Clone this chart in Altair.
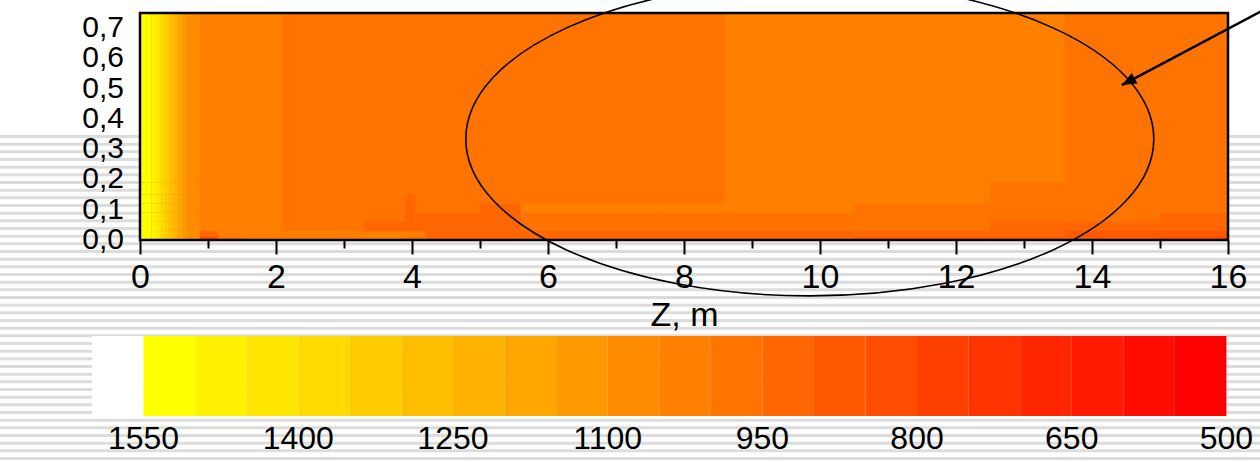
import altair as alt
import pandas as pd

# Furnace temperature field (deg C), piecewise constant on a grid.
# Column edges along the furnace length Z (m) and row edges across its height X (m).
z_edges = [0, 0.17, 0.25, 0.32, 0.38, 0.44, 0.5, 0.56, 0.62, 0.7, 0.88, 1.15, 1.5,
           2.1, 3.3, 3.9, 4.05, 4.2, 5.0, 5.25, 5.6, 7.7, 8.6, 10.5, 12.5, 13.6, 15.0, 16.0]
x_edges = [0, 0.01, 0.03, 0.06, 0.09, 0.12, 0.15, 0.19, 0.75]

# burner zone: hot core right at the inlet
inlet = [1525, 1475, 1425, 1375, 1325, 1275, 1225, 1175, 1125, 1075]
# one row per X band, bottom to top
temp_rows = [
    inlet + [825, 975, 1025, 1025, 1025, 975, 975, 925, 925, 925, 925, 925, 925, 875, 875, 875, 825],
    inlet + [925, 1025, 1025, 1025, 1025, 1025, 1025, 925, 925, 925, 925, 925, 925, 925, 925, 875, 875],
    inlet + [1025, 1025, 1025, 975, 925, 925, 925, 925, 925, 925, 975, 975, 975, 975, 925, 925, 925],
    inlet + [1025, 1025, 1025, 975, 975, 925, 925, 925, 925, 925, 975, 975, 975, 975, 975, 975, 925],
    inlet + [1025, 1025, 1025, 975, 975, 925, 975, 975, 925, 925, 1025, 1025, 1025, 975, 975, 975, 975],
    inlet + [1025, 1025, 1025, 975, 975, 925, 975, 975, 975, 975, 975, 975, 1025, 1025, 975, 975, 975],
    inlet + [1025, 1025, 1025, 975, 975, 975, 975, 975, 975, 975, 975, 975, 1025, 1025, 975, 975, 975],
    inlet + [1025, 1025, 1025, 975, 975, 975, 975, 975, 975, 975, 975, 975, 1025, 1025, 1025, 975, 975],
]

# colour scale: 21 levels of 50 deg from 1550 down to 500, framed by an empty
# (white) level above 1550 and a see-through one below 500
level_colors = ["#FFFF00", "#FFF200", "#FFE600", "#FFD900", "#FFCC00", "#FFBF00", "#FFB300",
                "#FFA600", "#FF9900", "#FF8C00", "#FF8000", "#FF7300", "#FF6600", "#FF5900",
                "#FF4D00", "#FF4000", "#FF3300", "#FF2600", "#FF1A00", "#FF0D00", "#FF0000"]
scale_top, scale_bottom = 1600, 450

x_ticks = list(range(0, 17))
y_ticks = [0.0, 0.1, 0.2, 0.3, 0.4, 0.5, 0.6, 0.7]
y_tick_labels = ["0,0", "0,1", "0,2", "0,3", "0,4", "0,5", "0,6", "0,7"]

# highlighted zone (centre in m) and pointer arrow
zone_center_z, zone_center_x = 9.85, 0.334
arrow_from = (16.69, 0.78)
arrow_to = (14.44, 0.512)

FONT = "Liberation Sans"
W, H = 1088, 227

cells = []
for r, row in enumerate(temp_rows):
    for c, t in enumerate(row):
        cells.append({"z0": z_edges[c], "z1": z_edges[c + 1],
                      "x0": x_edges[r], "x1": x_edges[r + 1], "neg_t": -t})
cells = pd.DataFrame(cells)

one = alt.Data(values=[{}])

# slide background: thin grey horizontal lines
stripe_rows = [123.5 + 7.667 * k for k in range(43)]
stripes = alt.Chart(pd.DataFrame({"py": stripe_rows})).mark_rule(
    color="#dcdcdc", strokeWidth=3
).encode(
    y=alt.Y("py:Q", scale=None, axis=None),
    x=alt.value(-140), x2=alt.value(1120),
)

backdrop = alt.Chart(one).mark_rect(color="#FF7300").encode(
    x=alt.value(0), x2=alt.value(W), y=alt.value(0), y2=alt.value(H)
)

heat = alt.Chart(cells).mark_rect().encode(
    x=alt.X("z0:Q", title="Z, m",
            scale=alt.Scale(domain=[0, 16], nice=False, zero=False),
            axis=alt.Axis(values=x_ticks,
                          labelExpr="datum.value % 2 == 0 ? format(datum.value, 'd') : ''",
                          tickSize={"condition": {"test": "datum.value % 2 != 0", "value": 8}, "value": 14},
                          tickWidth=2, tickColor="black", domain=False, grid=False,
                          labelFontSize=34, labelFont=FONT, labelColor="black", labelPadding=6,
                          labelFlush=False, labelOverlap=False,
                          titleFontSize=34, titleFont=FONT, titleFontWeight="normal",
                          titleColor="black", titlePadding=4, zindex=1)),
    x2="z1:Q",
    y=alt.Y("x0:Q", title="X, m",
            scale=alt.Scale(domain=[0, 0.75], nice=False, zero=False),
            axis=alt.Axis(values=y_ticks, labels=False,
                          tickSize=15, tickWidth=2, tickColor="black", domain=False, grid=False,
                          titleFontSize=34, titleFont=FONT, titleFontWeight="normal",
                          titleColor="black", titleX=-111, titleY=131, titleAngle=-90,
                          titleAlign="center", titleBaseline="middle", zindex=1)),
    y2="x1:Q",
    color=alt.Color("neg_t:Q",
                    scale=alt.Scale(type="quantize", domain=[-scale_top, -scale_bottom],
                                    range=["white"] + level_colors + ["transparent"],
                                    nice=False, zero=False),
                    legend=alt.Legend(type="gradient", orient="none", legendX=-48, legendY=323,
                                      direction="horizontal", gradientLength=1186,
                                      gradientThickness=80, gradientStrokeWidth=0, title=None,
                                      padding=0, labelFontSize=32, labelFont=FONT,
                                      labelColor="black", labelAlign="center", labelOffset=8,
                                      labelOverlap=False, zindex=1,
                                      labelExpr="(round(-datum.value) % 150 == 50) ? format(round(-datum.value), 'd') : ''")),
)

# X tick labels written with a decimal comma, placed through the shared X scale
y_labels = alt.Chart(pd.DataFrame({"v": y_ticks, "t": y_tick_labels})).mark_text(
    align="right", baseline="middle", fontSize=30, font=FONT, color="black"
).encode(
    y=alt.Y("v:Q", title="X, m", axis=None),
    x=alt.value(-16),
    text="t:N",
)

frame = alt.Chart(one).mark_rect(filled=False, stroke="black", strokeWidth=2.5).encode(
    x=alt.value(0), x2=alt.value(W), y=alt.value(0), y2=alt.value(H)
)

# ellipse outline drawn as a custom symbol (semi-axes 5.06 m by 0.52 m)
ellipse = alt.Chart(pd.DataFrame({"zc": [zone_center_z], "xc": [zone_center_x]})).mark_point(
    shape="M -1 0 A 1 0.4564 0 1 1 1 0 A 1 0.4564 0 1 1 -1 0 Z",
    size=688 ** 2, filled=False, stroke="black", strokeWidth=1.6, opacity=1,
).encode(x="zc:Q", y="xc:Q")

arrow_df = pd.DataFrame({"za": [arrow_from[0]], "xa": [arrow_from[1]],
                         "zb": [arrow_to[0]], "xb": [arrow_to[1]]})
arrow_line = alt.Chart(arrow_df).mark_rule(color="black", strokeWidth=2.5).encode(
    x="za:Q", y="xa:Q", x2="zb:Q", y2="xb:Q"
)
arrow_head = alt.Chart(arrow_df).mark_point(
    shape="M 0 0 L 0.75 1.8 L -0.75 1.8 Z", size=256, filled=True,
    color="black", angle=242, opacity=1,
).encode(x="zb:Q", y="xb:Q")

chart = alt.layer(
    stripes, backdrop, heat, y_labels, frame, ellipse, arrow_line, arrow_head
).properties(
    width=W, height=H,
    autosize=alt.AutoSizeParams(type="none"),
    padding={"left": 140, "top": 13, "right": 32, "bottom": 222},
    background="white",
).configure_view(stroke=None).configure(font=FONT)

chart.save("out.html", embed_options={"renderer": "svg", "actions": False})
